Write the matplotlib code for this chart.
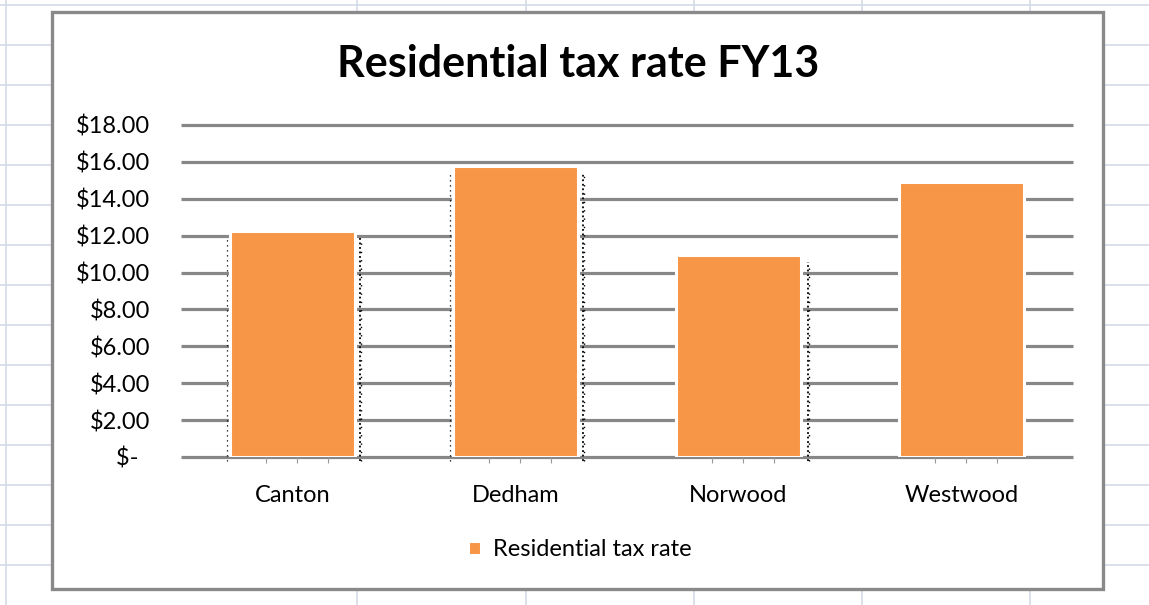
import matplotlib
matplotlib.use('Agg')
import matplotlib.pyplot as plt
from matplotlib.patches import Rectangle
from matplotlib.ticker import FuncFormatter

plt.rcParams['font.family'] = ['Lato', 'DejaVu Sans']

towns = ['Canton', 'Dedham', 'Norwood', 'Westwood']
rates = [12.25, 15.78, 10.95, 14.92]
y_ticks = [0, 2, 4, 6, 8, 10, 12, 14, 16, 18]
# dotted guide lines beside some bars: (left side, right side)
guides = [(True, True), (True, True), (False, True), (False, False)]

W, H = 1149, 605
fig = plt.figure(figsize=(W / 100, H / 100), dpi=100)

# sheet background with cell grid and the chart frame
bg = fig.add_axes([0, 0, 1, 1], zorder=0)
bg.set_xlim(0, W)
bg.set_ylim(H, 0)
bg.axis('off')
for yy in range(5, H, 40):
    bg.axhline(yy, color='#d3dbe8', lw=1.2)
for xx in [6, 357, 526, 694, 862, 1030]:
    bg.axvline(xx, color='#d3dbe8', lw=1.2)
bg.add_patch(Rectangle((52, 12), 1051, 577, facecolor='white',
                       edgecolor='#898989', lw=2.4, zorder=3))

ax = fig.add_axes([181 / W, 1 - 457 / H, 892 / W, 332 / H], zorder=1)
ax.set_facecolor('none')
x = list(range(len(towns)))
bw = 0.56
bars = ax.bar(x, rates, width=bw, color='#F79646', edgecolor='white',
              linewidth=2.2, zorder=3, label='Residential tax rate')

ax.hlines(y_ticks, -0.5, len(towns) - 0.5, color='#878787', lw=2.3,
          zorder=1, clip_on=False)

for i, (left, right) in enumerate(guides):
    top = rates[i] - 0.4
    if left:
        ax.vlines(i - bw / 2 - 0.014, -0.2, top, color='black', lw=0.9,
                  linestyles=(0, (1, 3)), zorder=4, clip_on=False)
    if right:
        xr = i + bw / 2 + 0.022 + (0.01 if i == 2 else 0)
        ax.vlines(xr, -0.2, top, color='black', lw=1.3,
                  linestyles=(0, (1, 1.5)), zorder=4, clip_on=False)
        ax.vlines(xr + 0.006, -0.2, top, color='black', lw=1.0,
                  linestyles=(0, (1, 5)), zorder=4, clip_on=False)

ax.set_xlim(-0.5, len(towns) - 0.5)
ax.set_ylim(0, 18)
ax.set_yticks(y_ticks)
ax.yaxis.set_major_formatter(FuncFormatter(
    lambda v, p: '$-  ' if v == 0 else f'${v:.2f}'))
ax.set_xticks(x)
ax.set_xticklabels(towns)
ax.set_xticks([i + d for i in x for d in (-0.12, 0.02, 0.16)], minor=True)
ax.tick_params(axis='y', length=0, pad=22, labelsize=17)
ax.tick_params(axis='x', which='major', length=0, pad=20, labelsize=17)
ax.tick_params(axis='x', which='minor', length=4, width=0.8,
               color='#9a9a9a')
for s in ax.spines.values():
    s.set_visible(False)

fig.text(578 / W, 1 - 64 / H, 'Residential tax rate FY13', ha='center',
         va='center', fontsize=31, fontweight='bold')

ax.legend(handles=[bars], loc='center', frameon=False, fontsize=17,
          bbox_to_anchor=(580 / W, 1 - 550 / H),
          bbox_transform=fig.transFigure, handlelength=0.55,
          handleheight=0.55, handletextpad=0.5)

fig.savefig('out.png', dpi=100)
